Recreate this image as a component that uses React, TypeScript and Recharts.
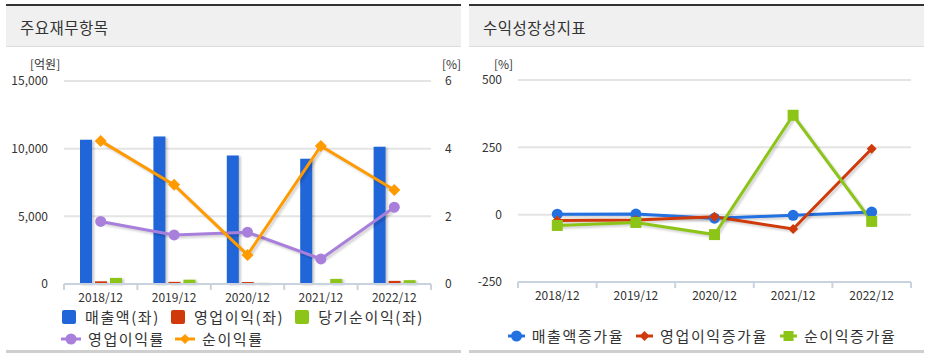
import React from "react";
import {
  ComposedChart,
  Bar,
  Line,
  XAxis,
  YAxis,
  CartesianGrid,
  Legend,
} from "recharts";

const categories = ["2018/12", "2019/12", "2020/12", "2021/12", "2022/12"];

// 주요재무항목 (억원 / %)
const revenue = [10650, 10890, 9490, 9250, 10150];
const operatingProfit = [197, 158, 145, 68, 230];
const netIncome = [450, 319, 82, 377, 282];
const operatingMargin = [1.85, 1.45, 1.53, 0.74, 2.27];
const netMargin = [4.23, 2.93, 0.86, 4.08, 2.78];

// 수익성장성지표 (%)
const revenueGrowth = [2, 2.3, -12.9, -2.5, 9.7];
const operatingGrowth = [-22, -20, -8, -53, 245];
const netGrowth = [-40, -29, -74, 369, -25];

const leftTicks = [0, 5000, 10000, 15000];
const rightTicks = [0, 2, 4, 6];
const growthTicks = [-250, 0, 250, 500];

const financeData = categories.map((c, i) => ({
  name: c,
  revenue: revenue[i],
  operatingProfit: operatingProfit[i],
  netIncome: netIncome[i],
  operatingMargin: operatingMargin[i],
  netMargin: netMargin[i],
}));

const growthData = categories.map((c, i) => ({
  name: c,
  revenueGrowth: revenueGrowth[i],
  operatingGrowth: operatingGrowth[i],
  netGrowth: netGrowth[i],
}));

const FONT = "'Noto Sans CJK KR', 'Noto Sans', sans-serif";
const TEXT = "#333";
const AXIS = "#c9d3df";

const C = {
  blue: "#2166d9",
  red: "#d03a0a",
  green: "#8cc417",
  purple: "#a97fdc",
  orange: "#ff9a00",
  blue2: "#2370e0",
};

function Diamond(props: any) {
  const { cx, cy, fill, r = 5 } = props;
  if (cx == null || cy == null) return null;
  return <path d={`M${cx},${cy - r}L${cx + r},${cy}L${cx},${cy + r}L${cx - r},${cy}Z`} fill={fill} />;
}

function Square(props: any) {
  const { cx, cy, fill, r = 5 } = props;
  if (cx == null || cy == null) return null;
  return <rect x={cx - r} y={cy - r} width={r * 2} height={r * 2} fill={fill} />;
}

function Circle(props: any) {
  const { cx, cy, fill, r = 5.5 } = props;
  if (cx == null || cy == null) return null;
  return <circle cx={cx} cy={cy} r={r} fill={fill} />;
}

function makeTick(band: number, count: number) {
  return (props: any) => {
    const { x, y, payload, index } = props;
    const y0 = y - 8;
    return (
      <g>
        <line x1={x - band / 2} x2={x - band / 2} y1={y0} y2={y0 + 6} stroke={AXIS} strokeWidth={2} />
        {index === count - 1 && (
          <line x1={x + band / 2} x2={x + band / 2} y1={y0} y2={y0 + 6} stroke={AXIS} strokeWidth={2} />
        )}
        <text x={x} y={y0 + 18} textAnchor="middle" fontSize={12} fill={TEXT} fontFamily={FONT}>
          {payload.value}
        </text>
      </g>
    );
  };
}

type Item = { label: string; color: string; kind: "square" | "circle" | "diamond" | "rect" };

function LegendIcon({ item, w }: { item: Item; w: number }) {
  if (item.kind === "rect") {
    return (
      <svg width={16} height={16} style={{ marginRight: 8 }}>
        <rect x={1} y={1} width={14} height={14} rx={2} fill={item.color} />
      </svg>
    );
  }
  const m = w / 2;
  return (
    <svg width={w} height={14} style={{ marginRight: 7 }}>
      <line x1={0} x2={w} y1={7} y2={7} stroke={item.color} strokeWidth={3} />
      {item.kind === "circle" && <circle cx={m} cy={7} r={5.5} fill={item.color} />}
      {item.kind === "diamond" && <path d={`M${m},2L${m + 5},7L${m},12L${m - 5},7Z`} fill={item.color} />}
      {item.kind === "square" && <rect x={m - 5} y={2} width={10} height={10} fill={item.color} />}
    </svg>
  );
}

function LegendRow({ items, gap, iconW }: { items: Item[]; gap: number; iconW: number }) {
  return (
    <div style={{ display: "flex", alignItems: "center", height: 22 }}>
      {items.map((it, i) => (
        <div key={it.label} style={{ display: "flex", alignItems: "center", marginLeft: i === 0 ? 0 : gap }}>
          <LegendIcon item={it} w={iconW} />
          <span
            style={{
              fontSize: 15,
              letterSpacing: 1.6,
              color: TEXT,
              fontFamily: FONT,
              lineHeight: "22px",
              whiteSpace: "nowrap",
            }}
          >
            {it.label}
          </span>
        </div>
      ))}
    </div>
  );
}

const leftLegendRow1: Item[] = [
  { label: "매출액(좌)", color: C.blue, kind: "rect" },
  { label: "영업이익(좌)", color: C.red, kind: "rect" },
  { label: "당기순이익(좌)", color: C.green, kind: "rect" },
];
const leftLegendRow2: Item[] = [
  { label: "영업이익률", color: C.purple, kind: "circle" },
  { label: "순이익률", color: C.orange, kind: "diamond" },
];
const rightLegend: Item[] = [
  { label: "매출액증가율", color: C.blue2, kind: "circle" },
  { label: "영업이익증가율", color: C.red, kind: "diamond" },
  { label: "순이익증가율", color: C.green, kind: "square" },
];

function Panel({ left, width, title }: { left: number; width: number; title: string }) {
  return (
    <>
      <div style={{ position: "absolute", left, top: 4, width, height: 2, background: "#333" }} />
      <div
        style={{
          position: "absolute",
          left,
          top: 6,
          width,
          height: 40,
          background: "#f0f0f0",
          borderBottom: "1px solid #dcdcdc",
        }}
      />
      <div
        style={{
          position: "absolute",
          left: left + 14,
          top: 16,
          fontSize: 15.5,
          letterSpacing: 0.5,
          color: TEXT,
          fontFamily: FONT,
          lineHeight: "22px",
        }}
      >
        {title}
      </div>
      <div style={{ position: "absolute", left, top: 350, width, height: 3, background: "#cfcfcf" }} />
    </>
  );
}

const unitStyle: React.CSSProperties = {
  position: "absolute",
  fontSize: 12,
  color: TEXT,
  fontFamily: FONT,
  lineHeight: "14px",
};

export default function App() {
  return (
    <div
      style={{
        position: "absolute",
        left: 0,
        top: 0,
        width: 933,
        height: 356,
        background: "#fff",
        overflow: "hidden",
      }}
    >
      <style>{`
        .recharts-bar-rectangle path { filter: drop-shadow(2px 1px 1px rgba(0,0,0,0.22)); }
        .recharts-line-curve { filter: drop-shadow(2px 2px 1px rgba(0,0,0,0.18)); }
      `}</style>
      <Panel left={6} width={455} title="주요재무항목" />
      <Panel left={469} width={455} title="수익성장성지표" />

      <div style={{ ...unitStyle, left: 30, top: 57 }}>[억원]</div>
      <div style={{ ...unitStyle, left: 442, top: 57 }}>[%]</div>
      <div style={{ ...unitStyle, left: 494, top: 57 }}>[%]</div>

      <div style={{ position: "absolute", left: 0, top: 0 }}>
        <ComposedChart
          width={466}
          height={356}
          data={financeData}
          margin={{ top: 81, right: 0, bottom: 6, left: 0 }}
          barSize={12}
          barGap={3}
        >
          <CartesianGrid vertical={false} stroke="#e4e4e4" strokeWidth={2} yAxisId="left" />
          <XAxis
            dataKey="name"
            axisLine={{ stroke: AXIS, strokeWidth: 2 }}
            tickLine={false}
            tick={makeTick(367 / 5, categories.length)}
            height={22}
            interval={0}
          />
          <YAxis
            yAxisId="left"
            domain={[0, 15000]}
            ticks={leftTicks}
            width={64}
            axisLine={false}
            tickLine={false}
            tickMargin={10}
            tickFormatter={(v) => v.toLocaleString("en-US")}
            tick={{ fontSize: 12, fill: TEXT, fontFamily: FONT }}
          />
          <YAxis
            yAxisId="right"
            orientation="right"
            domain={[0, 6]}
            ticks={rightTicks}
            width={35}
            axisLine={false}
            tickLine={false}
            tickMargin={8}
            tick={{ fontSize: 12, fill: TEXT, fontFamily: FONT }}
          />
          <Legend
            verticalAlign="bottom"
            content={() => (
              <div style={{ paddingLeft: 61, height: 44 }}>
                <LegendRow items={leftLegendRow1} gap={10} iconW={20} />
                <LegendRow items={leftLegendRow2} gap={10} iconW={20} />
              </div>
            )}
          />
          <Bar yAxisId="left" dataKey="revenue" fill={C.blue} isAnimationActive={false} />
          <Bar yAxisId="left" dataKey="operatingProfit" fill={C.red} isAnimationActive={false} />
          <Bar yAxisId="left" dataKey="netIncome" fill={C.green} isAnimationActive={false} />
          <Line
            yAxisId="right"
            dataKey="operatingMargin"
            stroke={C.purple}
            strokeWidth={3}
            dot={<Circle fill={C.purple} r={5.5} />}
            activeDot={false}
            isAnimationActive={false}
          />
          <Line
            yAxisId="right"
            dataKey="netMargin"
            stroke={C.orange}
            strokeWidth={3}
            dot={<Diamond fill={C.orange} r={6} />}
            activeDot={false}
            isAnimationActive={false}
          />
        </ComposedChart>
      </div>

      <div style={{ position: "absolute", left: 466, top: 0 }}>
        <ComposedChart
          width={467}
          height={356}
          data={growthData}
          margin={{ top: 80, right: 22, bottom: 9, left: 0 }}
        >
          <CartesianGrid vertical={false} stroke="#e4e4e4" strokeWidth={2} />
          <XAxis
            dataKey="name"
            scale="band"
            axisLine={{ stroke: AXIS, strokeWidth: 2 }}
            tickLine={false}
            tick={makeTick(393 / 5, categories.length)}
            height={22}
            interval={0}
          />
          <YAxis
            domain={[-250, 500]}
            ticks={growthTicks}
            width={52}
            axisLine={false}
            tickLine={false}
            tickMargin={10}
            tick={{ fontSize: 12, fill: TEXT, fontFamily: FONT }}
          />
          <Legend
            verticalAlign="bottom"
            content={() => (
              <div style={{ display: "flex", justifyContent: "center", paddingLeft: 27, height: 43, alignItems: "flex-end" }}>
                <LegendRow items={rightLegend} gap={12} iconW={17} />
              </div>
            )}
          />
          <Line
            dataKey="revenueGrowth"
            stroke={C.blue2}
            strokeWidth={3}
            dot={<Circle fill={C.blue2} r={5.5} />}
            activeDot={false}
            isAnimationActive={false}
          />
          <Line
            dataKey="operatingGrowth"
            stroke={C.red}
            strokeWidth={3}
            dot={<Diamond fill={C.red} r={5} />}
            activeDot={false}
            isAnimationActive={false}
          />
          <Line
            dataKey="netGrowth"
            stroke={C.green}
            strokeWidth={3}
            dot={<Square fill={C.green} r={5.5} />}
            activeDot={false}
            isAnimationActive={false}
          />
        </ComposedChart>
      </div>
    </div>
  );
}
